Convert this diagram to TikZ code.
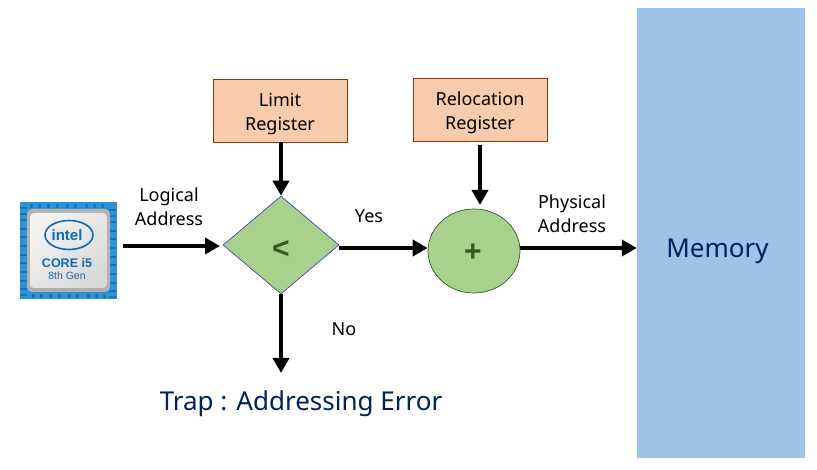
\documentclass[tikz,border=0pt]{standalone}
\usepackage{fontspec}
\setmainfont{Noto Sans}
\newfontfamily\heavy{Liberation Sans}
\usetikzlibrary{arrows.meta,shapes.geometric,calc}
\definecolor{regfill}{HTML}{F8CBAD}
\definecolor{regline}{HTML}{843C0C}
\definecolor{opfill}{HTML}{A9D18E}
\definecolor{opdark}{HTML}{385723}
\definecolor{memfill}{HTML}{9DC3E6}
\definecolor{navy}{HTML}{002060}
\definecolor{inblue}{HTML}{1168B4}
\definecolor{chipblue}{HTML}{2E93D6}
\definecolor{chipdark}{HTML}{1B74B8}
\tikzset{
  regbox/.style={draw=regline,fill=regfill,line width=0.8pt,minimum width=134pt,minimum height=63pt,align=center,font=\fontsize{18}{24}\selectfont,inner sep=0pt},
  lbl/.style={font=\fontsize{18}{24}\selectfont,align=center,inner sep=0pt},
  big/.style={font=\fontsize{26}{30}\selectfont,text=navy,inner sep=0pt},
  flow/.style={line width=4.5pt,-{Triangle[length=15pt,width=16pt]}},
  optext/.style={font=\fontsize{30}{30}\selectfont\heavy\bfseries,text=opdark,inner sep=0pt}
}
\newcommand{\pushdown}{\rule{0pt}{21pt}}
\begin{document}
\begin{tikzpicture}[x=1pt,y=-1pt]
\useasboundingbox (0,0) rectangle (817,470);
% memory
\node[fill=memfill,minimum width=168pt,minimum height=450pt,inner sep=0pt] (mem) at (721,233) {};
\node[big] (memlabel) at (717.5,251) {Memory};
% registers
\node[regbox] (limit) at (280,110.5) {\pushdown Limit\\Register};
\node[regbox] (reloc) at (480,109.5) {\pushdown Relocation\\Register};
% operators
\node[diamond,draw=blue!45!gray,fill=opfill,line width=0.7pt,minimum width=116pt,minimum height=98pt,inner sep=0pt,aspect=1.18] (cmp) at (281,245) {};
\node[optext] (cmplabel) at (281,249) {<};
\node[ellipse,draw=opdark,fill=opfill,line width=0.7pt,minimum width=92pt,minimum height=84pt,inner sep=0pt] (add) at (474,251) {};
\node[optext] (addlabel) at (473,253) {+};
% chip
\node[fill=chipblue,minimum width=97pt,minimum height=97pt,inner sep=0pt] (chip) at (68,251) {};
\foreach \yy in {207,213,219,228,236,245,254,262,271,280,288,294}{
  \fill[chipdark] (20,\yy) rectangle ++(7,2);
  \fill[chipdark] (109,\yy+2) rectangle ++(7,2);
}
\foreach \xx in {30,38,47,56,66,74,85,93,101}{
  \fill[chipdark] (\xx,204) rectangle ++(3,4);
  \fill[chipdark] (\xx+2,294) rectangle ++(3,4);
}
\fill[gray!60,rounded corners=5pt] (27,209) rectangle (110,292);
\shade[left color=gray!10,right color=gray!30,rounded corners=4pt,shading angle=45] (30,213) rectangle (107,288);
\draw[inblue,line width=1.6pt] (69,235) ellipse (24pt and 14.5pt);
\node[font=\fontsize{15}{15}\selectfont\heavy\bfseries,text=inblue,inner sep=1pt,fill=gray!18] (intel) at (67,235) {intel};
\node[font=\fontsize{12.5}{12}\selectfont\heavy\bfseries,text=inblue,inner sep=0pt] (core) at (67,263) {CORE i5};
\node[font=\fontsize{10.5}{10}\selectfont\heavy,text=inblue,inner sep=0pt] (gen) at (67,276) {8th Gen};
% labels
\node[lbl] (logical) at (169,206.5) {Logical\\Address};
\node[lbl] (yes) at (369,216) {Yes};
\node[lbl] (physical) at (572,213.5) {Physical\\Address};
\node[lbl] (no) at (344,329) {No};
\node[big] (trap) at (301,404) {Trap : Addressing Error};
% free ends
\coordinate (lstart) at (123,246);
\coordinate (lend) at (220,246);
\coordinate (rstart) at (480,145);
\coordinate (rend) at (480,205);
\coordinate (nend) at (281,373);
% connectors
\draw[flow] (lstart) -- (lend);
\draw[flow] (limit.south -| cmp.north) -- (cmp.north);
\draw[flow] ($(cmp.east)+(0,3)$) -- ($(add.west)+(0,-3)$);
\draw[flow] (rstart) -- (rend);
\draw[flow] ($(add.east)+(0,-3)$) -- ($(mem.west |- add.east)+(0,-3)$);
\draw[flow] (cmp.south) -- (nend);
\end{tikzpicture}
\end{document}
